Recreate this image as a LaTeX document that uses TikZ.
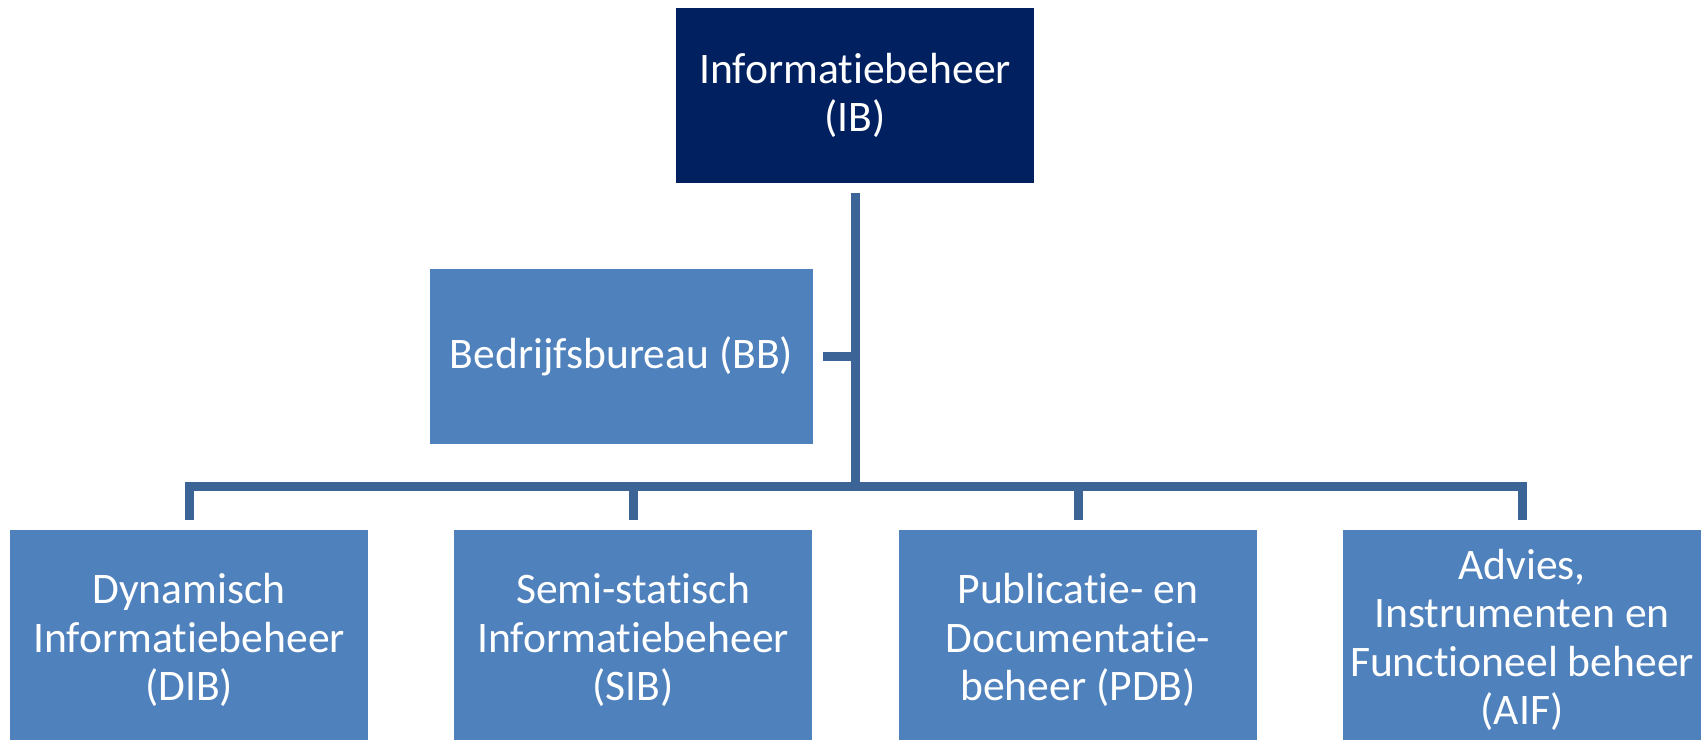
\documentclass[tikz,border=0pt]{standalone}
\usepackage{fontspec}
\setmainfont{Carlito}[Ligatures=NoCommon]
\usepackage{tikz}
\usetikzlibrary{positioning}

\definecolor{ibnavy}{HTML}{002060}
\definecolor{unitblue}{HTML}{4F81BD}
\definecolor{linkblue}{HTML}{3C6496}

\begin{document}
\begin{tikzpicture}[
  every text node part/.style={align=center},
  unit/.style={rectangle,fill=unitblue,text=white,inner sep=0pt,
    minimum width=3.58cm,minimum height=1.75cm,
    font=\fontsize{12.4pt}{13.8pt}\selectfont},
  headunit/.style={unit,fill=ibnavy},
  lowunit/.style={unit,minimum height=2.2cm},
  link/.style={draw=linkblue,line width=0.09cm}
]
  \clip (0,0) rectangle (17.07,7.40);
  \fill[white] (0,0) rectangle (17.07,7.40);

  \node[headunit] (IB) at (8.55,6.445) {Informatiebeheer\\(IB)};
  \node[unit,minimum width=3.83cm] (BB) at (6.215,3.835) {Bedrijfsbureau (BB)};

  \node[lowunit] (DIB) at (1.89,1.00) {Dynamisch\\Informatiebeheer\\(DIB)};
  \node[lowunit] (SIB) at (6.33,1.00) {Semi-statisch\\Informatiebeheer\\(SIB)};
  \node[lowunit] (PDB) at (10.78,1.00) {Publicatie- en\\Documentatie-\\beheer (PDB)};
  \node[lowunit] (AIF) at (15.22,1.00) {Advies,\\Instrumenten en\\Functioneel beheer\\(AIF)};

  \coordinate (hub) at (8.55,2.53);
  \coordinate (BBjoin) at (BB.east -| IB.south);

  \draw[link,shorten <=0.09cm] (IB.south) -- (hub);
  \draw[link,shorten <=0.09cm] (BB.east) -- (BBjoin);
  \foreach \u in {DIB,SIB,PDB,AIF}
    \draw[link,shorten >=0.09cm] (hub) -| (\u.north);
\end{tikzpicture}
\end{document}
